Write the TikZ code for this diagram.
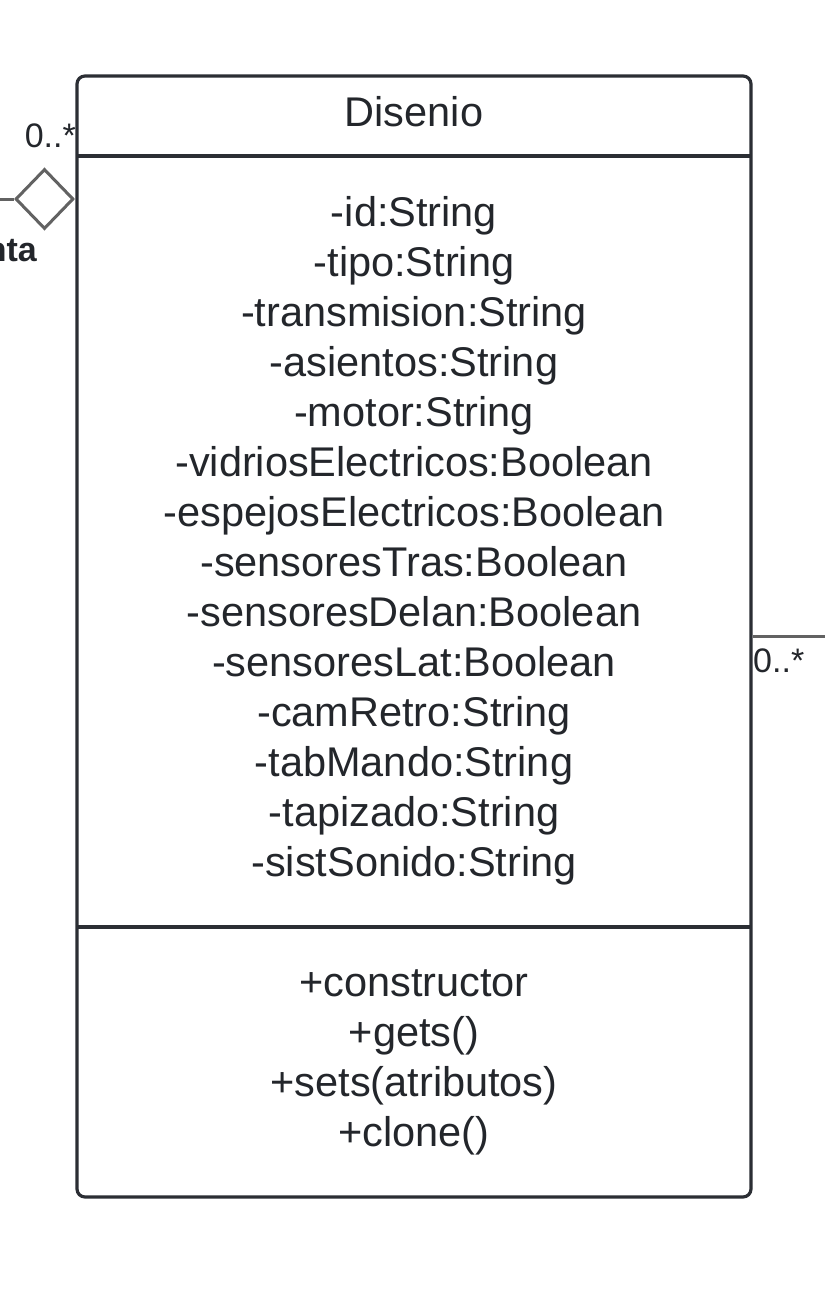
\documentclass[tikz,border=0pt]{standalone}
\usepackage{fontspec}
\setmainfont{Liberation Sans}
\usetikzlibrary{shapes.geometric}
\definecolor{boxline}{HTML}{2B2E34}
\definecolor{txt}{HTML}{23262B}
\definecolor{conn}{HTML}{626262}
\tikzset{
  classbox/.style={draw=boxline, line width=3.2pt, rounded corners=8pt, inner sep=0pt},
  divider/.style={draw=boxline, line width=3.2pt},
  member/.style={anchor=base, inner sep=0pt, text=txt, font=\fontsize{41.5}{50}\selectfont},
  mult/.style={inner sep=0pt, text=txt, font=\fontsize{34}{40}\selectfont},
  rolelabel/.style={inner sep=0pt, text=txt, font=\bfseries\fontsize{34}{40}\selectfont},
  assoc/.style={draw=conn, line width=3pt},
  aggdiamond/.style={diamond, draw=conn, line width=3pt, fill=white, inner sep=0pt, minimum width=58pt, minimum height=60pt, aspect=1}
}
\begin{document}
\begin{tikzpicture}[x=1pt,y=-1pt]
\useasboundingbox[fill=white] (0,0) rectangle (825,1298);
% class box
\node[classbox, minimum width=674pt, minimum height=1121pt] (cls) at (414,636.5) {};
\draw[divider] (77,156) -- (751,156);
\draw[divider] (77,927) -- (751,927);
% title
\node[member] (title) at (414,126) {Disenio};
% attributes
\foreach \t [count=\i] in {-id:String,-tipo:String,-transmision:String,-asientos:String,-motor:String,-vidriosElectricos:Boolean,-espejosElectricos:Boolean,-sensoresTras:Boolean,-sensoresDelan:Boolean,-sensoresLat:Boolean,-camRetro:String,-tabMando:String,-tapizado:String,-sistSonido:String}
  \node[member] (attr\i) at (414,{176+50*\i}) {\t};
% methods
\foreach \t [count=\i] in {+constructor,+gets(),+sets(atributos),+clone()}
  \node[member] (meth\i) at (414,{946+50*\i}) {\t};
% left aggregation
\node[aggdiamond] (dia) at (44.5,199) {};
\coordinate (leftend) at (0,199);
\draw[assoc] (leftend) -- (dia.west);
\node[mult, anchor=base east] (mleft) at (76,147) {0..*};
\node[rolelabel, anchor=base east] (role) at (37,261) {nta};
% right association
\coordinate (rightend) at (825,636);
\draw[assoc] (cls.east |- rightend) -- (rightend);
\node[mult, anchor=base west] (mright) at (753,672) {0..*};
\end{tikzpicture}
\end{document}
